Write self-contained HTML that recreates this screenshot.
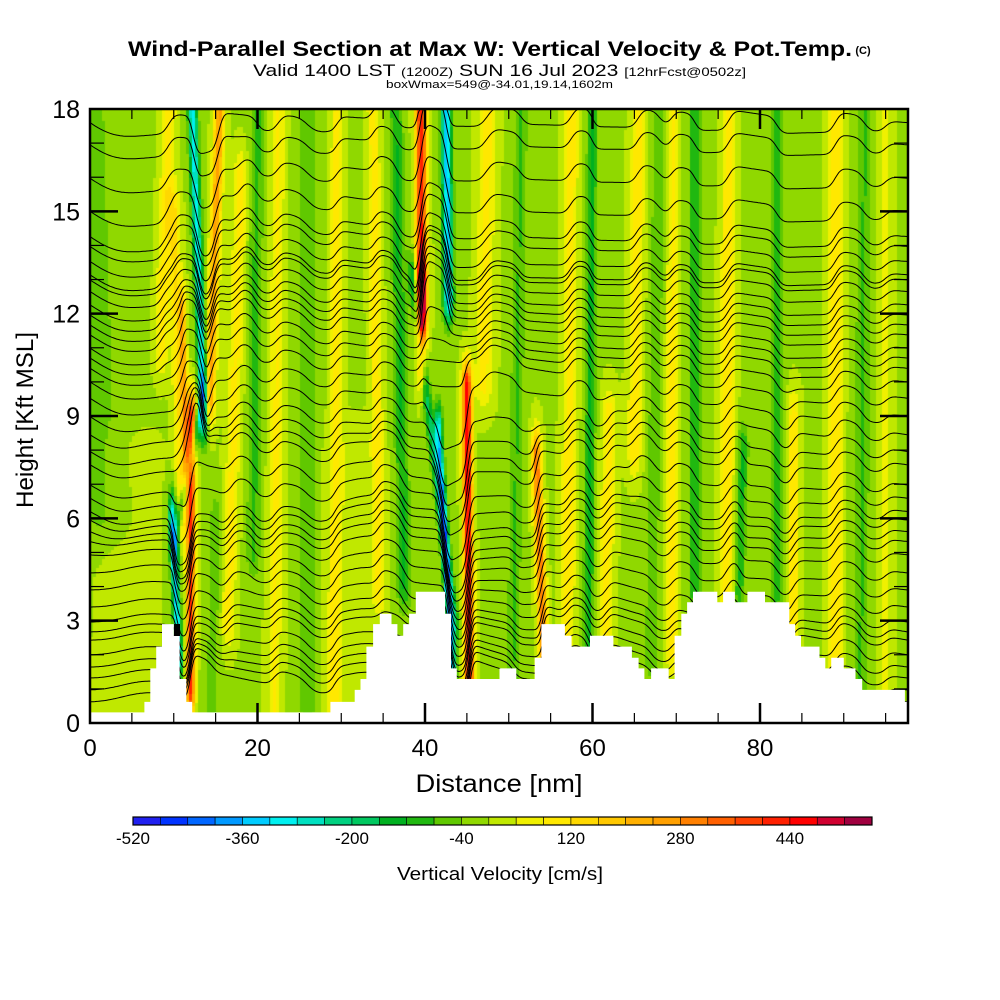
<!DOCTYPE html>
<html><head><meta charset="utf-8">
<style>
html,body{margin:0;padding:0;background:#fff;}
#wrap{position:relative;width:1000px;height:1000px;overflow:hidden;background:#fff;}
#field{position:absolute;left:90px;top:109px;}
#ov{position:absolute;left:0;top:0;}
text{font-family:"Liberation Sans",sans-serif;fill:#000;}
</style></head>
<body>
<div id="wrap">
<canvas id="field" width="818" height="614"></canvas>
<svg id="ov" width="1000" height="1000" xmlns="http://www.w3.org/2000/svg">
  <g id="contours"></g>
  <path id="terrain" fill="#fff"></path>
  <rect x="174" y="624" width="6" height="12" fill="#000"></rect>
  <g id="ticks"></g>
  <rect x="90" y="109" width="818" height="614" fill="none" stroke="#000" stroke-width="2.5"></rect>
  <g id="labels"></g>
  <text x="490" y="56" text-anchor="middle" font-size="21" font-weight="bold" textLength="724" lengthAdjust="spacingAndGlyphs">Wind-Parallel Section at Max W: Vertical Velocity &amp; Pot.Temp.</text>
  <text x="863" y="54" text-anchor="middle" font-size="11" font-weight="bold">(C)</text>
  <text x="253" y="76" font-size="17" textLength="493" lengthAdjust="spacingAndGlyphs">Valid 1400 LST <tspan font-size="12">(1200Z)</tspan> SUN 16 Jul 2023 <tspan font-size="12">[12hrFcst@0502z]</tspan></text>
  <text x="386" y="88" font-size="11" textLength="227" lengthAdjust="spacingAndGlyphs">boxWmax=549@-34.01,19.14,1602m</text>
  <text x="499" y="792" text-anchor="middle" font-size="25" textLength="167" lengthAdjust="spacingAndGlyphs">Distance [nm]</text>
  <text transform="translate(33,420) rotate(-90)" text-anchor="middle" font-size="24" textLength="176" lengthAdjust="spacingAndGlyphs">Height [Kft MSL]</text>
  <g id="cbar"></g>
  <text x="500" y="880" text-anchor="middle" font-size="18" textLength="206" lengthAdjust="spacingAndGlyphs">Vertical Velocity [cm/s]</text>
</svg>
</div>
<script>
// ---- data ----
const cbarColors = ["#2020f0","#0033ff","#0066ff","#0099ff","#00ccff","#00f0f0","#00e0c0","#00d080","#00c860","#00b020","#20b810","#60c800","#90d800","#c0e800","#f0f000","#ffe800","#ffd800","#ffc800","#ffb000","#ffa000","#ff8000","#ff6000","#ff4000","#ff2000","#ff0000","#d00030","#a00040"];
const cbarLabels = [-520,-360,-200,-40,120,280,440];
const xTickLabels = [0,20,40,60,80];
const yTickLabels = [0,3,6,9,12,15,18];
const baseW = -3;
// bands: x at bottom, h at bottom, x at top, h at top (nm, kft)
const bandXb = [10.6,10.2,13.6,12.0,14.3,11.0,11.5,8.5,1.5,16.5,19.5,22,26,29.2,34.5,37.5,39.6,39.6,42.8,43.5,43.3,45.3,47,50.5,54.2,57,59.5,61.5,65,67,69.5,72.2,76,77.5,82,84,89,92,95,4,14.5,31];
const bandHb = [2.0,5.5,9.0,1.0,9.5,6,7.5,11,6,3,5,0.5,0.5,0.5,4,4,12,10.5,12.5,3,1.5,1.3,10,1.3,2,1.5,2,2,8,2,2,3.9,3.9,3.9,3.9,3,2,1,1,0,0,0];
const bandXt = [9.8,13.5,12.2,12.1,15.5,10.0,11.0,9.5,0,18.0,20,22.5,26,29.5,33.8,36.5,39.5,39.6,42.5,38.5,41.6,45.0,47.5,51.5,53.3,57.5,60,62,65.5,68,69.5,72.2,76.3,78,82,84,89,92.5,95,5,15,31];
const bandHt = [6.0,9.5,18.2,9.0,18.2,15,12,18.2,18.2,16,18.2,18.2,18.2,18.2,18.2,18.2,18.2,13,18.2,13,8.5,9.8,18.2,18.2,7.8,18.2,18.2,9,18.2,18.2,18.2,18.2,18.2,8,18.2,9,18.2,18.2,18.2,8,6,8];
const bandAmp = [-330,-180,-300,420,260,120,220,110,-45,100,-90,90,-60,100,110,-120,440,250,-350,-170,-330,480,100,-80,320,110,-130,110,110,-70,90,-110,120,-120,-100,110,120,-80,60,20,-60,30];
const bandWid = [0.45,0.5,0.55,0.5,0.6,0.7,0.4,0.8,3.5,0.8,0.8,0.8,1.2,0.7,0.7,0.8,0.65,0.5,0.6,0.55,0.45,0.55,1.0,0.8,0.55,0.8,0.6,0.8,0.8,0.8,0.7,0.7,0.8,0.6,0.8,0.7,0.8,0.9,0.8,3,0.8,3];
// potential temperature contour base heights (kft at left edge)
const thetaLevels = [17.6,16.95,15.97,15.0,14.26,13.97,13.53,13.14,12.99,12.65,12.26,11.96,11.67,11.38,10.99,10.7,10.4,10.0,9.52,8.98,8.45,7.96,7.57,6.98,6.59,6.2,5.95,5.61,5.32,4.93,4.4,3.9,3.4,2.96,2.67,2.43,2.0,1.64,1.32,0.97,0.62];
// terrain steps
const terrEdges = [0,6.5,7.2,7.9,8.6,10.0,10.7,11.5,12.2,28.7,31.6,32.3,33.0,33.8,34.6,36.0,36.7,37.4,38.1,38.9,42.4,43.1,43.8,48.9,50.9,53.1,53.9,56.7,57.5,59.7,62.5,64.7,65.5,66.2,67.0,69.1,69.8,70.6,71.3,72.0,74.9,75.6,77.0,78.5,80.6,83.5,84.2,84.9,87.1,87.8,88.5,90.0,91.4,92.2,97.3,98];
const terrHeights = [0.31,0.62,1.6,2.24,2.9,2.56,1.29,0.62,0.31,0.62,0.97,1.29,2.24,2.9,3.2,2.9,2.56,2.9,3.2,3.85,3.2,1.6,1.29,1.6,1.29,1.91,2.9,2.56,2.24,2.56,2.24,1.91,1.6,1.29,1.6,1.29,2.56,3.2,3.54,3.85,3.54,3.85,3.54,3.85,3.54,2.9,2.56,2.24,1.91,1.6,1.91,1.6,1.29,0.97,0.62];

// ---- scales ----
const X0=90, X1=908, Y0=723, Y1=109;
const PXNM=8.375, PXK=(Y0-Y1)/18;
function sx(nm){return X0+nm*PXNM;}
function sy(k){return Y0-k*PXK;}
const SVGNS="http://www.w3.org/2000/svg";

function wAnom(x,h){
  let s=0;
  for(let i=0;i<bandAmp.length;i++){
    const hb=bandHb[i],ht=bandHt[i];
    let t=(h-hb)/(ht-hb), f=1;
    if(t<0){f=Math.exp(-Math.pow((h-hb)/0.8,2));t=0;}
    else if(t>1){f=Math.exp(-Math.pow((h-ht)/0.8,2));t=1;}
    if(f<0.01)continue;
    const xc=bandXb[i]+t*(bandXt[i]-bandXb[i]);
    const d=(x-xc)/bandWid[i];
    if(d*d>12)continue;
    s+=bandAmp[i]*f*Math.exp(-d*d);
  }
  return s;
}
function colorFor(v){
  let b=Math.floor((v+520)/40);
  if(b<0)b=0;if(b>26)b=26;
  return cbarColors[b];
}
// ---- field ----
const ctx=document.getElementById('field').getContext('2d');
const CW=3,CH=3;
for(let py=0;py<614;py+=CH){
  const h=(Y0-(Y1+py+CH/2))/PXK;
  for(let px=0;px<818;px+=CW){
    const x=(px+CW/2)/PXNM;
    ctx.fillStyle=colorFor(baseW+wAnom(x,h));
    ctx.fillRect(px,py,CW,CH);
  }
}
// ---- contours ----
const cg=document.getElementById('contours');
const C=0.0036, DX=0.2, XMAX=97.7;
thetaLevels.forEach((L,li)=>{
  let eta=0; const pts=[];
  for(let x=0;x<=XMAX+1e-6;x+=DX){
    pts.push([x,eta]);
    eta+=C*wAnom(x+DX/2,L+eta)*DX;
    eta*=0.985;
  }
  const end=pts[pts.length-1][1];
  let d='';
  pts.forEach((p,i)=>{
    let h=L+p[1]-end*p[0]/XMAX;
    const yy=Math.max(Y1,Math.min(Y0,sy(h)));
    d+=(i?'L':'M')+sx(p[0]).toFixed(1)+' '+yy.toFixed(1);
  });
  const path=document.createElementNS(SVGNS,'path');
  path.setAttribute('d',d);
  path.setAttribute('fill','none');
  path.setAttribute('stroke','#000');
  path.setAttribute('stroke-width','1');
  
  
  cg.appendChild(path);
});
// ---- terrain ----
let td='M'+sx(0)+' '+Y0;
for(let i=0;i<terrHeights.length;i++){
  const y=sy(terrHeights[i]);
  td+=' L'+sx(terrEdges[i]).toFixed(1)+' '+y.toFixed(1)+' L'+Math.min(X1,sx(terrEdges[i+1])).toFixed(1)+' '+y.toFixed(1);
}
td+=' L'+X1+' '+Y0+' Z';
document.getElementById('terrain').setAttribute('d',td);
// ---- ticks ----
const tg=document.getElementById('ticks');
function line(x1,y1,x2,y2,w,name){
  const l=document.createElementNS(SVGNS,'line');
  l.setAttribute('x1',x1);l.setAttribute('y1',y1);l.setAttribute('x2',x2);l.setAttribute('y2',y2);
  l.setAttribute('stroke','#000');l.setAttribute('stroke-width',w);
  
  
  tg.appendChild(l);
}
for(let n=5;n<XMAX;n+=5){
  const major=(n%20===0), len=major?20:10, w=major?2.5:1.2, x=sx(n);
  line(x,Y0,x,Y0-len,w,'x-tick');
  line(x,Y1,x,Y1+len,w,'x-tick-top');
}
for(let k=1;k<18;k++){
  const major=(k%3===0), len=major?28:14, w=major?2.5:1.2, y=sy(k);
  line(X0,y,X0+len,y,w,'y-tick');
  line(X1,y,X1-len,y,w,'y-tick-right');
}
const lg=document.getElementById('labels');
function txt(parent,x,y,s,size,anchor,name){
  const t=document.createElementNS(SVGNS,'text');
  t.setAttribute('x',x);t.setAttribute('y',y);t.setAttribute('font-size',size);
  t.setAttribute('text-anchor',anchor);
  t.textContent=s;
  
  
  parent.appendChild(t);
}
xTickLabels.forEach(v=>txt(lg,sx(v),756,String(v),24,'middle','x-tick-label'));
yTickLabels.forEach(v=>txt(lg,80,sy(v)+9,String(v),25,'end','y-tick-label'));
// ---- colorbar ----
const cb=document.getElementById('cbar');
const CBX=133, CBW=739/27, CBY=817, CBH=8;
cbarColors.forEach((c,i)=>{
  const r=document.createElementNS(SVGNS,'rect');
  r.setAttribute('x',(CBX+i*CBW).toFixed(2));r.setAttribute('y',CBY);
  r.setAttribute('width',CBW.toFixed(2));r.setAttribute('height',CBH);
  r.setAttribute('fill',c);r.setAttribute('stroke','#000');r.setAttribute('stroke-width','0.6');
  
  
  cb.appendChild(r);
});
const fr=document.createElementNS(SVGNS,'rect');
fr.setAttribute('x',CBX);fr.setAttribute('y',CBY);fr.setAttribute('width',739);fr.setAttribute('height',CBH);
fr.setAttribute('fill','none');fr.setAttribute('stroke','#000');fr.setAttribute('stroke-width','1.2');


cb.appendChild(fr);
cbarLabels.forEach(v=>txt(cb,CBX+(v+520)/40*CBW,844,String(v),17,'middle','colorbar-label'));
</script>
</body></html>
